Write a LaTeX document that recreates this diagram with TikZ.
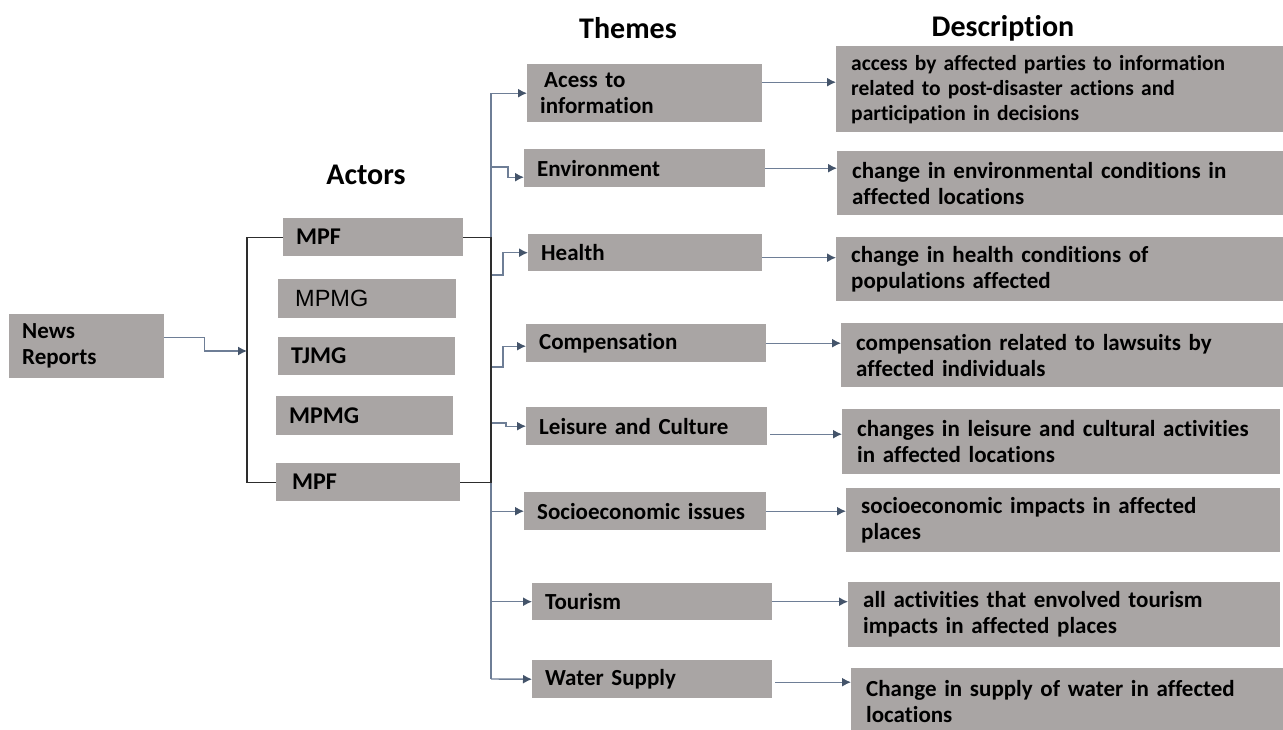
\documentclass[tikz,border=0pt]{standalone}
\usepackage{fontspec}
\setmainfont{Carlito}[Ligatures=NoCommon]
\newfontfamily\arialfont{Liberation Sans}
\usetikzlibrary{arrows.meta}
\definecolor{boxgray}{RGB}{169,165,164}
\definecolor{arrowc}{RGB}{68,84,106}
\definecolor{linec}{RGB}{110,126,150}
\definecolor{brkc}{RGB}{45,45,45}
\tikzset{
  box/.style={fill=boxgray, draw=none, anchor=north west, inner xsep=13pt, inner ysep=0pt,
    align=left, text=black, font=\bfseries\fontsize{23}{26}\selectfont},
  dbox/.style={box, inner xsep=15pt},
  abox/.style={box, font=\bfseries\fontsize{24}{26}\selectfont},
  hdr/.style={font=\bfseries\fontsize{30}{34}\selectfont, text=black},
  arr/.style={draw=linec, line width=1.4pt, -{Latex[length=9pt,width=9pt,color=arrowc]}},
  brk/.style={draw=brkc, line width=1.3pt}
}
\begin{document}
\begin{tikzpicture}[x=1pt, y=-1pt]
\useasboundingbox (0,0) rectangle (1283,729);

% headers
\node[hdr] (hact) at (366,175) {Actors};
\node[hdr] (hthe) at (628,28) {Themes};
\node[hdr] (hdes) at (1003,28) {Description};

% source
\node[box, text width=129pt, minimum height=64pt] (news) at (9,314) {News\\Reports};

% actors
\node[abox, text width=154pt, minimum height=38pt] (mpf1) at (283,218) {MPF};
\node[abox, inner xsep=17pt, text width=144pt, minimum height=39pt,
      font=\arialfont\fontsize{23.5}{26}\selectfont] (mpmg1) at (278,279) {MPMG};
\node[abox, text width=151pt, minimum height=38pt] (tjmg) at (278,337) {TJMG};
\node[abox, text width=151pt, minimum height=39pt] (mpmg2) at (276,396) {MPMG};
\node[abox, inner xsep=16pt, text width=152pt, minimum height=38pt] (mpf2) at (276,463) {MPF};

% themes
\node[box, text width=209pt, minimum height=58pt] (acc) at (527,64) {\hspace{4pt}Acess to\\information};
\node[box, text width=215pt, minimum height=38pt] (env) at (524,149) {Environment};
\node[box, text width=208pt, minimum height=37pt] (hea) at (528,234) {Health};
\node[box, text width=214pt, minimum height=38pt] (com) at (526,324) {Compensation};
\node[box, text width=215pt, minimum height=38pt] (lei) at (526,407) {Leisure and Culture};
\node[box, text width=216pt, minimum height=38pt] (soc) at (524,492) {Socioeconomic issues};
\node[box, text width=214pt, minimum height=37pt] (tou) at (532,583) {Tourism};
\node[box, text width=214pt, minimum height=38pt] (wat) at (532,660) {Water Supply};

% descriptions
\node[dbox, text width=417pt, minimum height=86pt, font=\bfseries\fontsize{21.5}{25}\selectfont] (d1) at (836,46)
  {access by affected parties to information\\related to post-disaster actions and\\participation in decisions};
\node[dbox, text width=416pt, minimum height=64pt] (d2) at (837,151)
  {change in environmental conditions in\\affected locations};
\node[dbox, text width=417pt, minimum height=64pt] (d3) at (836,237)
  {change in health conditions of\\populations affected};
\node[dbox, text width=412pt, minimum height=64pt] (d4) at (841,323)
  {compensation related to lawsuits by\\affected individuals};
\node[dbox, text width=408pt, minimum height=65pt] (d5) at (842,409)
  {changes in leisure and cultural activities\\in affected locations};
\node[dbox, text width=404pt, minimum height=64pt] (d6) at (846,488)
  {socioeconomic impacts in affected\\places};
\node[dbox, text width=402pt, minimum height=65pt] (d7) at (848,582)
  {all activities that envolved tourism\\impacts in affected places};
\node[dbox, text width=402pt, minimum height=66pt] (d8) at (851,668)
  {Change in supply of water in affected\\locations};

% trunk to themes
\coordinate (tbot) at (491,679);
\coordinate (te) at (491,167);
\coordinate (th) at (491,275);
\coordinate (tc) at (491,367);
\coordinate (tl) at (491,423);
\draw[arr] (tbot) |- (acc.west);
\draw[arr] (te) -- ++(17,0) |- ([yshift=-9pt]env.west);
\draw[arr] (th) -- ++(12,0) |- (hea.west);
\draw[arr] (tc) -- ++(12,0) |- ([yshift=-3pt]com.west);
\draw[arr] (tl) -- ++(15,0) |- (lei.west);
\draw[arr] (soc.west -| tbot) -- (soc.west);
\draw[arr] (tou.west -| tbot) -- (tou.west);
\draw[arr] (tbot) -- (wat.west);

% news -> actors bracket
\coordinate (bl) at (247,351);
\coordinate (br) at (491,360);
\draw[brk] (mpf1.west) -| (bl) |- (mpf2.west);
\draw[brk] (mpf1.east) -| (br) |- (mpf2.east);
\draw[arr] ([yshift=9pt]news.east) -- ++(40,0) |- (bl);

% themes -> descriptions
\draw[arr] ([yshift=11pt]acc.east) -- ([yshift=11pt]acc.east -| d1.west);
\draw[arr] (env.east) -- (env.east -| d2.west);
\draw[arr] ([yshift=-5pt]hea.east) -- ([yshift=-5pt]hea.east -| d3.west);
\draw[arr] (com.east) -- (com.east -| d4.west);
\draw[arr] ([yshift=-8pt,xshift=3pt]lei.east) -- ([yshift=-8pt]lei.east -| d5.west);
\draw[arr] (soc.east) -- (soc.east -| d6.west);
\draw[arr] (tou.east) -- (tou.east -| d7.west);
\draw[arr] ([yshift=-3pt,xshift=3pt]wat.east) -- ([yshift=-3pt]wat.east -| d8.west);
\end{tikzpicture}
\end{document}
